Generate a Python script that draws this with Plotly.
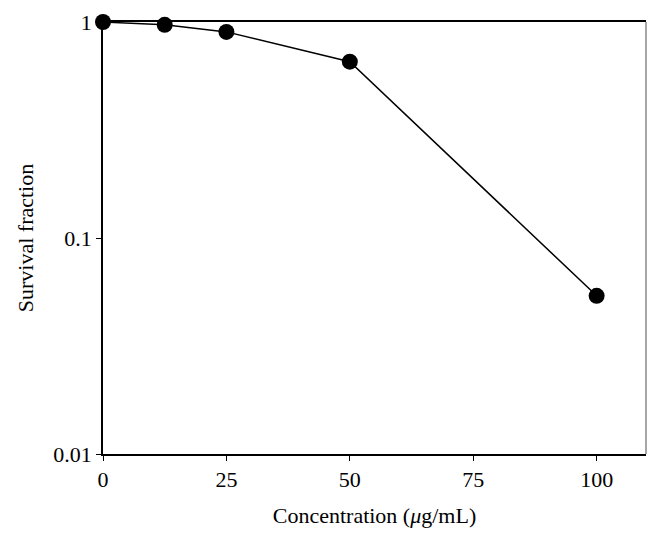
import plotly.graph_objects as go

concentration = [0, 12.5, 25, 50, 100]
survival = [1.0, 0.97, 0.90, 0.655, 0.054]
x_ticks = [0, 25, 50, 75, 100]
y_ticks = [0.01, 0.1, 1]
y_tick_labels = ["0.01", "0.1", "1"]

font_family = "Liberation Serif, Times New Roman, serif"

fig = go.Figure()
fig.add_trace(go.Scatter(
    x=concentration, y=survival, mode="lines+markers",
    line=dict(color="black", width=1.5),
    marker=dict(color="black", size=16),
    cliponaxis=False,
    showlegend=False,
))

fig.update_layout(
    width=652, height=531,
    margin=dict(l=95, r=14, t=14, b=85),
    plot_bgcolor="white", paper_bgcolor="white",
    font=dict(family=font_family, size=22, color="black"),
    xaxis=dict(
        range=[0, 110], tickvals=x_ticks, ticks="outside", ticklen=5,
        tickcolor="black", showline=True, linecolor="black", linewidth=1.5,
        mirror=True, showgrid=False, zeroline=False, automargin=False,
        tickfont=dict(family=font_family, size=22),
        title=dict(text="Concentration (<i>μ</i>g/mL)", font=dict(family=font_family, size=22), standoff=16),
    ),
    yaxis=dict(
        type="log", range=[-2, 0], tickvals=y_ticks, ticktext=y_tick_labels,
        ticks="outside", ticklen=5, tickcolor="black", showline=True,
        linecolor="black", linewidth=1.5, showgrid=False, zeroline=False, automargin=False,
        tickfont=dict(family=font_family, size=22),
        title=dict(text="Survival fraction", font=dict(family=font_family, size=22), standoff=14),
    ),
    shapes=[dict(type="line", xref="paper", yref="paper", x0=1, x1=1, y0=0, y1=1,
                 line=dict(color="#888888", width=1.5))],
)

fig.write_html("out.html")
